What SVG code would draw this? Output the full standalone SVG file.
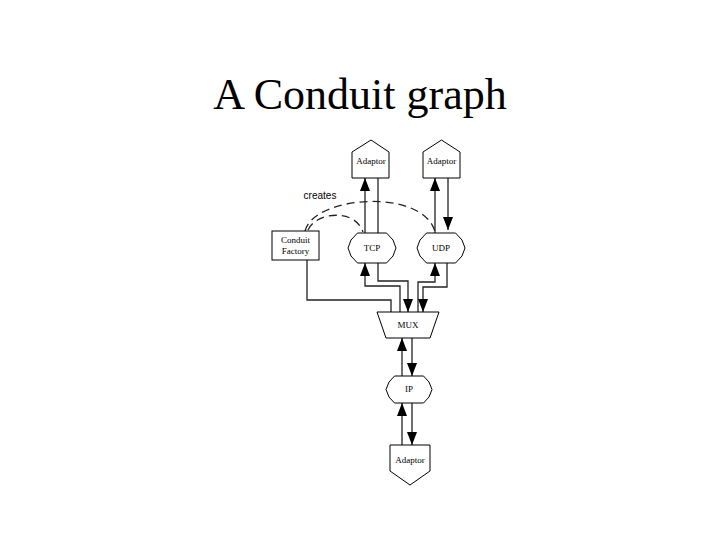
<svg xmlns="http://www.w3.org/2000/svg" width="720" height="540" viewBox="0 0 720 540">
<style>
.title{font-family:"Liberation Serif","Times New Roman",serif;font-size:44px;text-anchor:middle;fill:#000}
.node{fill:#fff;stroke:#000;stroke-width:1}
.lbl{font-family:"Liberation Serif","Times New Roman",serif;font-size:9px;text-anchor:middle;fill:#000}
.ln{fill:none;stroke:#222;stroke-width:1.3}
.dash{fill:none;stroke:#222;stroke-width:1.3;stroke-dasharray:8 5}
.cr{font-family:"Liberation Sans",Arial,sans-serif;font-size:10px;text-anchor:middle;fill:#000}
</style>
<defs>
<marker id="ah" markerUnits="userSpaceOnUse" markerWidth="13" markerHeight="10" refX="13" refY="5" orient="auto">
<path d="M0,0 L13,5 L0,10 z" fill="#000"/>
</marker>
</defs>
<rect width="720" height="540" fill="#fff"/>
<text class="title" x="360" y="109">A Conduit graph</text>

<g id="connectors">
<path class="ln" d="M365,233 V178" marker-end="url(#ah)"/>
<path class="ln" d="M378,178 V233"/>
<path class="ln" d="M435,233 V178" marker-end="url(#ah)"/>
<path class="ln" d="M448,178 V230" marker-end="url(#ah)"/>
<path class="dash" d="M305,231 C314,195 424,188 435,232"/>
<path class="dash" d="M308,230 C316,212 355,208 363,232"/>
<path class="ln" d="M307,260 V300 H391 V312"/>
<path class="ln" d="M400,312 V286 H365 V263" marker-end="url(#ah)"/>
<path class="ln" d="M378,263 V281 H408 V312" marker-end="url(#ah)"/>
<path class="ln" d="M418,312 V282 H435 V263" marker-end="url(#ah)"/>
<path class="ln" d="M447,263 V287 H423 V312" marker-end="url(#ah)"/>
<path class="ln" d="M402,376 V338" marker-end="url(#ah)"/>
<path class="ln" d="M412,338 V376" marker-end="url(#ah)"/>
<path class="ln" d="M402,445 V403" marker-end="url(#ah)"/>
<path class="ln" d="M412,403 V445" marker-end="url(#ah)"/>
<text class="cr" x="320" y="199">creates</text>
</g>

<g id="adaptor-tcp">
<path class="node" d="M352,152 L371,140 L389,152 V178 H352 Z"/>
<text class="lbl" x="371" y="164">Adaptor</text>
</g>
<g id="adaptor-udp">
<path class="node" d="M423,152 L441.5,140 L460,152 V178 H423 Z"/>
<text class="lbl" x="441.5" y="164">Adaptor</text>
</g>
<g id="factory">
<rect class="node" x="272" y="231" width="47" height="29" stroke-width="1.7"/>
<text class="lbl" x="295.5" y="243">Conduit</text>
<text class="lbl" x="295.5" y="254">Factory</text>
</g>
<g id="tcp">
<path class="node" d="M357.5,233 H386.5 L393,240 L396,248 L393,256 L386.5,263 H357.5 L351,256 L348,248 L351,240 Z"/>
<text class="lbl" x="372" y="251">TCP</text>
</g>
<g id="udp">
<path class="node" d="M426.5,233 H455.5 L462,240 L465,248 L462,256 L455.5,263 H426.5 L420,256 L417,248 L420,240 Z"/>
<text class="lbl" x="441" y="251">UDP</text>
</g>
<g id="mux">
<path class="node" d="M377,312 H439 L430,338 H386 Z"/>
<text class="lbl" x="408" y="328">MUX</text>
</g>
<g id="ip">
<path class="node" d="M394.5,376 H423.5 L429,382 L432,389.5 L429,397 L423.5,403 H394.5 L389,397 L386,389.5 L389,382 Z"/>
<text class="lbl" x="409" y="392">IP</text>
</g>
<g id="adaptor-ip">
<path class="node" d="M390,445 H430 V471 L410,485 L390,471 Z"/>
<text class="lbl" x="410" y="463">Adaptor</text>
</g>
</svg>
